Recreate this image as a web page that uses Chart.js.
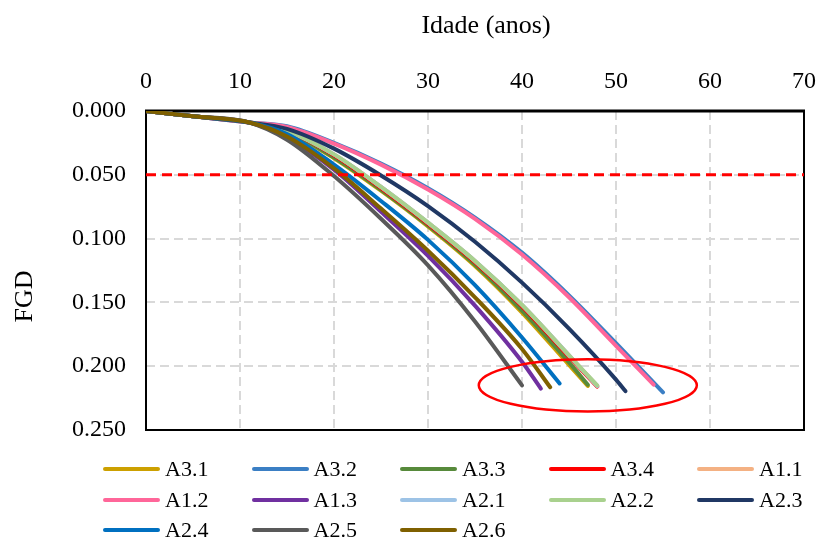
<!DOCTYPE html>
<html><head><meta charset="utf-8">
<script src="https://cdn.jsdelivr.net/npm/chart.js@4.4.1/dist/chart.umd.min.js"></script>
<style>
html,body{margin:0;padding:0;background:#fff;}
#wrap{position:relative;width:823px;height:542px;}
#c{position:absolute;left:0;top:0;}
#legend{position:absolute;left:0;top:0;width:823px;height:542px;pointer-events:none;font-family:"Liberation Serif","Times New Roman",serif;font-size:22px;color:#000;}
.item{position:absolute;display:flex;align-items:center;height:30px;white-space:nowrap;}
.sw{display:inline-block;width:57px;height:4px;border-radius:2px;margin-right:5px;}
</style></head><body>
<div id="wrap"><canvas id="c" width="823" height="542"></canvas><div id="legend"></div></div>
<script>
// ---- texts ----
const X_TITLE = 'Idade (anos)';
const Y_TITLE = 'FGD';
const X_TICKS = [0, 10, 20, 30, 40, 50, 60, 70];
const Y_TICKS = [0, 0.05, 0.10, 0.15, 0.20, 0.25];

// ---- series ----
const SERIES_NAMES = ['A3.1','A3.2','A3.3','A3.4','A1.1','A1.2','A1.3','A2.1','A2.2','A2.3','A2.4','A2.5','A2.6'];
const SERIES_COLORS = ['#CCA000','#3B7FC4','#578A3B','#FF0000','#F4B183','#FF6699','#7030A0','#9DC3E6','#A9D18E','#203864','#0070C0','#595959','#7F6000'];

const AGE_A31 = [0,5,11,15,20,25,30,35,40,45,47];
const FGD_A31 = [0,0.0041,0.009,0.0165,0.037,0.0625,0.0905,0.1215,0.158,0.199,0.2155];
const AGE_A32 = [0,5,11,15,20,25,30,35,40,45,50,55];
const FGD_A32 = [0,0.0041,0.009,0.012,0.025,0.0412,0.0605,0.0835,0.111,0.1445,0.182,0.2205];
const AGE_A33 = [0,5,11,15,20,25,30,35,40,45,47];
const FGD_A33 = [0,0.0041,0.009,0.016,0.0365,0.0618,0.0897,0.1205,0.1565,0.197,0.2145];
const AGE_A34 = [0,5,11,15,20,25,30,35,40,45,48];
const FGD_A34 = [0,0.0041,0.009,0.0158,0.0348,0.0605,0.0885,0.1185,0.153,0.1925,0.216];
const AGE_A11 = [0,5,11,15,20,25,30,35,40,45,48];
const FGD_A11 = [0,0.0041,0.009,0.0155,0.034,0.0595,0.0875,0.1175,0.152,0.1915,0.2155];
const AGE_A12 = [0,5,11,15,20,25,30,35,40,45,50,54];
const FGD_A12 = [0,0.0041,0.009,0.0125,0.0255,0.042,0.0615,0.0845,0.1125,0.146,0.184,0.2145];
const AGE_A13 = [0,5,11,15,20,25,30,35,40,42];
const FGD_A13 = [0,0.0041,0.009,0.021,0.046,0.079,0.1135,0.1525,0.1965,0.2175];
const AGE_A21 = [0,5,11,15,20,25,30,35,40,45,48];
const FGD_A21 = [0,0.0041,0.009,0.0155,0.034,0.0595,0.0875,0.1175,0.152,0.1915,0.2155];
const AGE_A22 = [0,5,11,15,20,25,30,35,40,45,48];
const FGD_A22 = [0,0.0041,0.009,0.0155,0.034,0.0595,0.0875,0.1175,0.152,0.1915,0.215];
const AGE_A23 = [0,5,11,15,20,25,30,35,40,45,50,51];
const FGD_A23 = [0,0.0041,0.009,0.014,0.0295,0.0505,0.0745,0.1025,0.1345,0.1705,0.2105,0.2195];
const AGE_A24 = [0,5,11,15,20,25,30,35,40,44];
const FGD_A24 = [0,0.0041,0.009,0.018,0.042,0.0705,0.101,0.1365,0.1775,0.2135];
const AGE_A25 = [0,5,11,15,20,25,30,35,40];
const FGD_A25 = [0,0.0041,0.009,0.0225,0.051,0.0845,0.121,0.165,0.215];
const AGE_A26 = [0,5,11,15,20,25,30,35,40,43];
const FGD_A26 = [0,0.0041,0.009,0.020,0.045,0.0765,0.1095,0.146,0.1865,0.2165];

const SERIES_AGES = [AGE_A31,AGE_A32,AGE_A33,AGE_A34,AGE_A11,AGE_A12,AGE_A13,AGE_A21,AGE_A22,AGE_A23,AGE_A24,AGE_A25,AGE_A26];
const SERIES_FGD  = [FGD_A31,FGD_A32,FGD_A33,FGD_A34,FGD_A11,FGD_A12,FGD_A13,FGD_A21,FGD_A22,FGD_A23,FGD_A24,FGD_A25,FGD_A26];

// reference limit line and highlight ellipse (data units)
const LIMIT_AGE = [0, 70];
const LIMIT_FGD = [0.05, 0.05];
const ELLIPSE_CENTER = [47.0, 0.2150];
const ELLIPSE_RADII = [11.6, 0.0205];

const FONT = '"Liberation Serif", "Times New Roman", serif';

const datasets = SERIES_NAMES.map((name, i) => ({
  label: name,
  data: SERIES_AGES[i].map((a, j) => ({x: a, y: SERIES_FGD[i][j]})),
  borderColor: SERIES_COLORS[i],
  backgroundColor: SERIES_COLORS[i],
  borderWidth: 4,
  borderCapStyle: 'round',
  borderJoinStyle: 'round',
  pointRadius: 0,
  fill: false,
  cubicInterpolationMode: 'monotone',
  order: 20 - i
}));
datasets.push({
  label: 'limite',
  data: LIMIT_AGE.map((a, j) => ({x: a, y: LIMIT_FGD[j]})),
  borderColor: '#FF0000',
  borderWidth: 3,
  borderDash: [10, 6],
  pointRadius: 0,
  fill: false,
  order: 0
});

const framePlugin = {
  id: 'frame',
  beforeDatasetsDraw(chart) {
    const {ctx, chartArea: a} = chart;
    ctx.save();
    ctx.strokeStyle = '#000';
    ctx.lineWidth = 2;
    ctx.strokeRect(a.left, a.top, a.right - a.left, a.bottom - a.top);
    ctx.lineWidth = 3;
    ctx.beginPath(); ctx.moveTo(a.left - 1, a.top); ctx.lineTo(a.right + 1, a.top); ctx.stroke();
    ctx.restore();
  }
};

const ellipsePlugin = {
  id: 'ellipse',
  afterDatasetsDraw(chart) {
    const {ctx, scales: {x, y}} = chart;
    const cx = x.getPixelForValue(ELLIPSE_CENTER[0]);
    const cy = y.getPixelForValue(ELLIPSE_CENTER[1]);
    const rx = Math.abs(x.getPixelForValue(ELLIPSE_CENTER[0] + ELLIPSE_RADII[0]) - cx);
    const ry = Math.abs(y.getPixelForValue(ELLIPSE_CENTER[1] + ELLIPSE_RADII[1]) - cy);
    ctx.save();
    ctx.strokeStyle = '#FF0000';
    ctx.lineWidth = 2.5;
    ctx.beginPath();
    ctx.ellipse(cx, cy, rx, ry, 0, 0, Math.PI * 2);
    ctx.stroke();
    ctx.restore();
  }
};

const titlePlugin = {
  id: 'axisTitles',
  afterDraw(chart) {
    const {ctx, chartArea: a} = chart;
    ctx.save();
    ctx.fillStyle = '#000';
    ctx.font = '26px ' + FONT;
    ctx.textAlign = 'center';
    ctx.textBaseline = 'middle';
    ctx.fillText(X_TITLE, (a.left + a.right) / 2 + 11, 26);
    ctx.translate(25, (a.top + a.bottom) / 2 + 26);
    ctx.rotate(-Math.PI / 2);
    ctx.fillText(Y_TITLE, 0, 0);
    ctx.restore();
  }
};

new Chart(document.getElementById('c'), {
  type: 'line',
  data: { datasets },
  options: {
    responsive: false,
    animation: false,
    events: [],
    layout: { padding: { left: 0, right: 19, top: 0, bottom: 112 } },
    plugins: { legend: { display: false }, tooltip: { enabled: false } },
    scales: {
      x: {
        type: 'linear', position: 'top',
        min: X_TICKS[0], max: X_TICKS[X_TICKS.length - 1],
        afterBuildTicks: s => { s.ticks = X_TICKS.map(v => ({value: v})); },
        afterFit: s => { s.height = 111; s.paddingLeft = 0; s.paddingRight = 0; },
        ticks: { font: { family: FONT, size: 24 }, color: '#000', padding: 15, maxRotation: 0 },
        grid: { color: '#D9D9D9', lineWidth: 2, drawTicks: false },
        border: { display: false, dash: [9, 5] }
      },
      y: {
        type: 'linear', reverse: true,
        min: Y_TICKS[0], max: Y_TICKS[Y_TICKS.length - 1],
        afterBuildTicks: s => { s.ticks = Y_TICKS.map(v => ({value: v})); },
        afterFit: s => { s.width = 146; s.paddingTop = 0; s.paddingBottom = 0; },
        ticks: { font: { family: FONT, size: 24 }, color: '#000', padding: 20, callback: v => Number(v).toFixed(3) },
        grid: { color: '#D9D9D9', lineWidth: 2, drawTicks: false },
        border: { display: false, dash: [9, 5] }
      }
    }
  },
  plugins: [framePlugin, ellipsePlugin, titlePlugin]
});

// HTML legend (5 columns)
const leg = document.getElementById('legend');
SERIES_NAMES.forEach((name, i) => {
  const col = i % 5, row = Math.floor(i / 5);
  const d = document.createElement('div');
  d.className = 'item';
  d.style.left = (103 + col * 148.5) + 'px';
  d.style.top = (454 + row * 30.5) + 'px';
  const sw = document.createElement('span');
  sw.className = 'sw';
  sw.style.background = SERIES_COLORS[i];
  const t = document.createElement('span');
  t.textContent = name;
  d.appendChild(sw); d.appendChild(t);
  leg.appendChild(d);
});
</script>
</body></html>
